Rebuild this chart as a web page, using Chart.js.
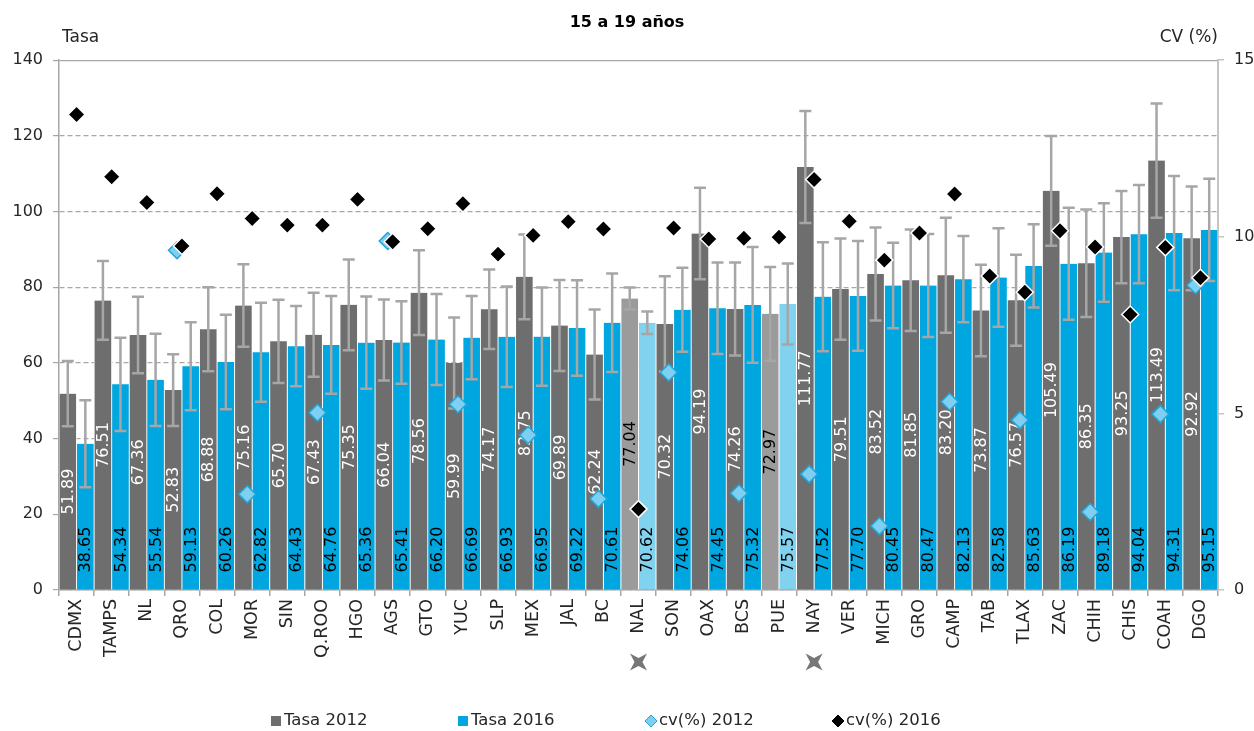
<!DOCTYPE html>
<html><head><meta charset="utf-8">
<script src="https://cdn.jsdelivr.net/npm/chart.js@4/dist/chart.umd.min.js"></script>
<style>html,body{margin:0;padding:0;background:#fff}#wrap{width:1254px;height:731px;position:relative}canvas{display:block}</style>
</head><body><div id="wrap"><canvas id="c" width="1254" height="731" style="width:1254px;height:731px"></canvas></div>
<script>
const categories = ['CDMX','TAMPS','NL','QRO','COL','MOR','SIN','Q.ROO','HGO','AGS','GTO','YUC','SLP','MEX','JAL','BC','NAL','SON','OAX','BCS','PUE','NAY','VER','MICH','GRO','CAMP','TAB','TLAX','ZAC','CHIH','CHIS','COAH','DGO'];
const tasa2012 = [51.89,76.51,67.36,52.83,68.88,75.16,65.70,67.43,75.35,66.04,78.56,59.99,74.17,82.75,69.89,62.24,77.04,70.32,94.19,74.26,72.97,111.77,79.51,83.52,81.85,83.20,73.87,76.57,105.49,86.35,93.25,113.49,92.92];
const tasa2016 = [38.65,54.34,55.54,59.13,60.26,62.82,64.43,64.76,65.36,65.41,66.20,66.69,66.93,66.95,69.22,70.61,70.62,74.06,74.45,75.32,75.57,77.52,77.70,80.45,80.47,82.13,82.58,85.63,86.19,89.18,94.04,94.31,95.15];
const err2012 = [8.6,10.4,10.1,9.5,11.1,10.9,11.0,11.1,12.0,10.7,11.2,12.0,10.5,11.2,12.0,11.9,2.9,12.6,12.1,12.3,12.4,14.8,13.4,12.3,13.4,15.2,12.1,12.0,14.5,14.2,12.2,15.1,13.7];
const err2016 = [11.5,12.3,12.2,11.6,12.5,13.1,10.6,12.9,12.2,10.9,12.0,11.0,13.3,13.0,12.6,13.0,2.95,11.1,12.1,15.3,10.7,14.4,14.5,11.3,13.6,11.4,13.0,11.0,14.8,13.0,13.0,15.1,13.5];
const cv2012 = [null,null,null,9.62,null,2.71,null,5.02,null,9.88,null,5.26,null,4.39,null,2.58,null,6.16,null,2.74,null,3.28,null,1.81,null,5.33,null,4.81,null,2.21,null,4.98,8.63];
const cv2016 = [13.46,11.70,10.97,9.74,11.22,10.52,10.33,10.33,11.06,9.86,10.23,10.94,9.51,10.04,10.43,10.22,2.29,10.25,9.94,9.96,9.99,11.62,10.44,9.34,10.11,11.21,8.89,8.43,10.17,9.71,7.80,9.70,8.84];
const leftTicks = [0,20,40,60,80,100,120,140];
const rightTicks = [0,5,10,15];
const highlight = ['NAL','PUE'];
const flagged = ['NAL','NAY'];

const FONT = "'DejaVu Sans', sans-serif";
const C12 = '#6e6e6e', C12L = '#9b9b9b', C16 = '#00a6df', C16L = '#80d2ef';
const ERRC = '#a6a6a6';
// slot offsets inside each category (fraction of a category)
const SLOT2012 = -0.25, SLOT2016 = 0.25, CV12_SHIFT = -0.14;

const errs = [err2012, err2016];
const vals = [tasa2012, tasa2016];

const barExtras = {
  id: 'barExtras',
  afterDatasetDraw(chart, args) {
    const di = args.index;
    if (di > 1) return;
    const meta = args.meta;
    const ctx = chart.ctx;
    const ys = chart.scales.y;
    ctx.save();
    meta.data.forEach((el, i) => {
      const v = vals[di][i];
      const txt = v.toFixed(2);
      ctx.font = '16px ' + FONT;
      ctx.textBaseline = 'middle';
      ctx.save();
      if (di === 0) {
        ctx.fillStyle = highlight.includes(categories[i]) ? '#000' : '#fff';
        ctx.translate(el.x, (el.y + el.base) / 2);
        ctx.rotate(-Math.PI / 2);
        ctx.textAlign = 'center';
      } else {
        ctx.fillStyle = '#000';
        ctx.translate(el.x, el.base - 17);
        ctx.rotate(-Math.PI / 2);
        ctx.textAlign = 'left';
      }
      ctx.fillText(txt, 0, 1);
      ctx.restore();
      const e = errs[di][i];
      const yt = ys.getPixelForValue(v + e), yb = ys.getPixelForValue(v - e);
      ctx.strokeStyle = ERRC;
      ctx.lineWidth = 2.5;
      ctx.beginPath();
      ctx.moveTo(el.x, yt); ctx.lineTo(el.x, yb);
      ctx.moveTo(el.x - 6, yt); ctx.lineTo(el.x + 6, yt);
      ctx.moveTo(el.x - 6, yb); ctx.lineTo(el.x + 6, yb);
      ctx.stroke();
    });
    ctx.restore();
  }
};

const decorations = {
  id: 'decorations',
  afterDraw(chart) {
    const ctx = chart.ctx, ca = chart.chartArea;
    ctx.save();
    ctx.fillStyle = '#262626';
    ctx.font = '17px ' + FONT;
    ctx.textBaseline = 'middle';
    ctx.textAlign = 'left';
    ctx.fillText('Tasa', ca.left + 3, 38);
    ctx.textAlign = 'right';
    ctx.fillText('CV (%)', ca.right, 38);
    const xs = chart.scales.x;
    flagged.forEach(lbl => {
      const i = categories.indexOf(lbl);
      const x = xs.getPixelForValue(i), y = ca.bottom + 72;
      const R = 12, r = 4;
      ctx.beginPath();
      for (let k = 0; k < 8; k++) {
        const rr = k % 2 === 0 ? R : r;
        const a = Math.PI / 4 * k + Math.PI / 4;
        const px = x + Math.cos(a) * rr, py = y + Math.sin(a) * rr;
        if (k === 0) ctx.moveTo(px, py); else ctx.lineTo(px, py);
      }
      ctx.closePath();
      ctx.fillStyle = '#777777';
      ctx.fill();
    });
    const pitch = 187;
    const x0 = chart.width / 2 - 356;
    const ly = 721;
    chart.data.datasets.forEach((ds, i) => {
      const x = x0 + i * pitch;
      ctx.save();
      if (ds.type === 'bar') {
        ctx.fillStyle = Array.isArray(ds.backgroundColor) ? ds.backgroundColor[0] : ds.backgroundColor;
        ctx.fillRect(x, ly - 5, 10, 10);
      } else {
        ctx.beginPath();
        ctx.moveTo(x, ly); ctx.lineTo(x + 6, ly - 6); ctx.lineTo(x + 12, ly); ctx.lineTo(x + 6, ly + 6); ctx.closePath();
        ctx.fillStyle = ds.backgroundColor; ctx.fill();
        ctx.lineWidth = 1; ctx.strokeStyle = ds.borderColor === '#ffffff' ? ds.backgroundColor : ds.borderColor; ctx.stroke();
      }
      ctx.restore();
      ctx.fillStyle = '#262626';
      ctx.font = '16.5px ' + FONT;
      ctx.textAlign = 'left';
      ctx.textBaseline = 'middle';
      ctx.fillText(ds.label, x + (ds.type === 'bar' ? 13 : 14), ly);
    });
    ctx.restore();
  }
};

new Chart(document.getElementById('c'), {
  data: {
    labels: categories,
    datasets: [
      { type: 'bar', label: 'Tasa 2012',
        data: tasa2012.map((v, i) => ({x: i + SLOT2012, y: v})),
        backgroundColor: categories.map(c => highlight.includes(c) ? C12L : C12),
        borderColor: '#ffffff', borderWidth: {left: 0.8, right: 0.8, top: 0, bottom: 0},
        grouped: false, categoryPercentage: 1, barPercentage: 1, xAxisID: 'xl', yAxisID: 'y', order: 2 },
      { type: 'bar', label: 'Tasa 2016',
        data: tasa2016.map((v, i) => ({x: i + SLOT2016, y: v})),
        backgroundColor: categories.map(c => highlight.includes(c) ? C16L : C16),
        borderColor: '#ffffff', borderWidth: {left: 0.8, right: 0.8, top: 0, bottom: 0},
        grouped: false, categoryPercentage: 1, barPercentage: 1, xAxisID: 'xl', yAxisID: 'y', order: 2 },
      { type: 'scatter', label: 'cv(%) 2012',
        data: cv2012.map((v, i) => v == null ? null : {x: i + CV12_SHIFT, y: v}).filter(p => p),
        pointStyle: 'rectRot', pointRadius: 8.5, backgroundColor: '#7fd0f0', borderColor: '#1fa6dc', borderWidth: 1.5,
        xAxisID: 'xl', yAxisID: 'y2', order: 1 },
      { type: 'scatter', label: 'cv(%) 2016',
        data: cv2016.map((v, i) => ({x: i, y: v})),
        pointStyle: 'rectRot', pointRadius: 8.5, backgroundColor: '#000000', borderColor: '#ffffff', borderWidth: 1.5,
        xAxisID: 'xl', yAxisID: 'y2', order: 0 }
    ]
  },
  options: {
    responsive: false,
    animation: false,
    devicePixelRatio: 1,
    layout: { padding: { top: 0, left: 0, right: 0, bottom: 41 } },
    plugins: {
      legend: { display: false },
      tooltip: { enabled: false },
      title: { display: true, text: '15 a 19 años', color: '#000',
        font: { family: FONT, size: 16, weight: 'bold' }, padding: { top: 13, bottom: 28 } }
    },
    scales: {
      x: {
        type: 'category', offset: true, labels: categories,
        grid: { offset: true, drawOnChartArea: false, drawTicks: true, tickLength: 6, color: ERRC, lineWidth: 1.5 },
        border: { color: ERRC, width: 1.5 },
        ticks: { maxRotation: 90, minRotation: 90, autoSkip: false, padding: 3, color: '#262626', font: { family: FONT, size: 17.5 } },
        afterFit(s) { s.height = 100; }
      },
      xl: { type: 'linear', display: false, offset: false, grid: { offset: false }, bounds: 'data',
            min: -0.5, max: categories.length - 0.5 },
      y: {
        position: 'left', min: 0, max: 140,
        afterBuildTicks(s) { s.ticks = leftTicks.map(v => ({ value: v })); },
        grid: { color: '#a8a8a8', lineWidth: 1.2, tickLength: 6, drawTicks: true, tickColor: ERRC },
        border: { display: true, color: ERRC, width: 1.5, dash: c => (c.tick && c.tick.value === 140) ? [] : [5, 3] },
        ticks: { padding: 10, color: '#262626', font: { family: FONT, size: 16 } },
        afterFit(s) { s.width = 59; }
      },
      y2: {
        position: 'right', min: 0, max: 15,
        afterBuildTicks(s) { s.ticks = rightTicks.map(v => ({ value: v })); },
        grid: { drawOnChartArea: false, tickLength: 6, color: '#c4c4c4', lineWidth: 1.5 },
        border: { display: true, color: '#c4c4c4', width: 2 },
        ticks: { padding: 10, color: '#262626', font: { family: FONT, size: 16 } },
        afterFit(s) { s.width = 36; }
      }
    }
  },
  plugins: [barExtras, decorations]
});
</script>
</body></html>
